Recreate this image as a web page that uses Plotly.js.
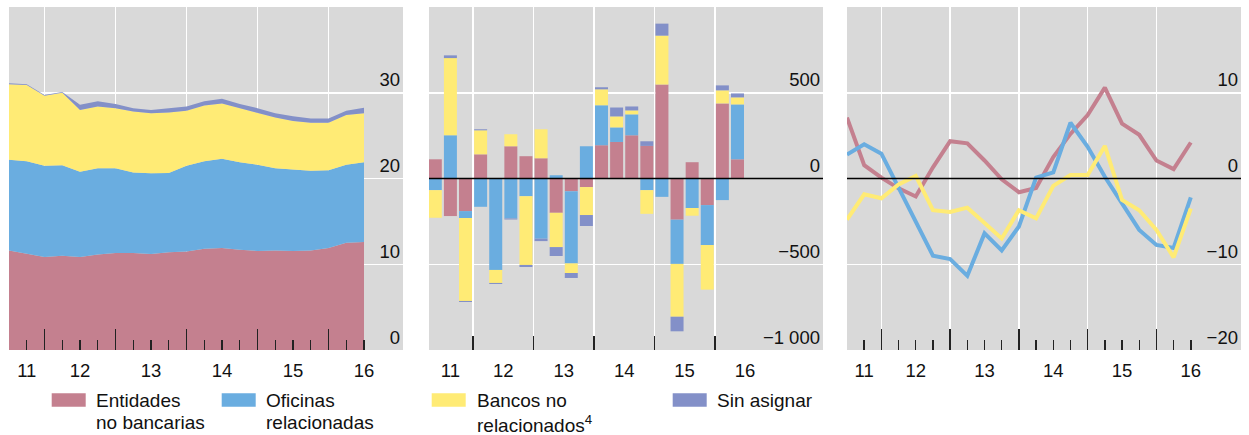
<!DOCTYPE html>
<html><head><meta charset="utf-8">
<script src="https://cdn.plot.ly/plotly-3.0.1.min.js"></script>
<style>html,body{margin:0;padding:0;background:#fff}#chart{width:1249px;height:435px}</style>
</head><body><div id="chart"></div>
<script>
// quarter index (21 quarterly observations)
const quarters = [0,1,2,3,4,5,6,7,8,9,10,11,12,13,14,15,16,17,18,19,20];
const yearLabels = ['11','12','13','14','15','16'];

// Panel 1: stocks (stacked areas)
const stockEntidades = [11.6,11.2,10.85,11.0,10.85,11.15,11.3,11.3,11.2,11.4,11.5,11.8,11.9,11.7,11.55,11.6,11.55,11.6,11.9,12.5,12.6];
const stockOficinas  = [10.6,10.8,10.65,10.55,9.95,10.05,9.9,9.4,9.4,9.25,10.0,10.2,10.4,10.2,10.05,9.6,9.5,9.3,9.05,9.1,9.3];
const stockBancos    = [8.8,8.9,8.15,8.45,7.2,7.2,7.0,7.1,7.0,7.05,6.4,6.5,6.45,6.3,6.0,5.9,5.65,5.6,5.55,5.8,5.7];
const stockSinAsignar= [0.1,0.1,0.1,0.1,0.6,0.6,0.5,0.4,0.4,0.5,0.5,0.5,0.55,0.5,0.6,0.5,0.55,0.5,0.5,0.5,0.65];

// Panel 2: flows (stacked bars)
const flowEntidades  = [112,-219,-190,141,0,188,130,118,-200,-74,-50,194,213,252,190,548,-240,95,-155,438,112];
const flowOficinas   = [-68,252,-41,-165,-533,-233,-103,-351,19,-421,188,233,85,122,-68,-107,-258,-172,-233,-126,320];
const flowBancos     = [-161,450,-483,140,-76,70,-401,169,-200,-56,-163,93,64,23,-138,285,-308,-45,-260,76,41];
const flowSinAsignar = [0,16,-6,6,-6,-6,-12,-14,-52,-29,-64,12,52,23,27,70,-85,0,0,29,23];

// Panel 3: growth rates (lines)
const rateEntidades = [7.1,1.55,0.1,-1.15,-2.1,1.3,4.35,4.1,2.1,-0.1,-1.6,-1.1,2.5,5.2,7.4,10.6,6.4,5.1,2.1,1.1,4.2];
const rateOficinas  = [2.8,4.0,2.9,-1.0,-5.0,-9.0,-9.4,-11.35,-6.4,-8.4,-5.6,0.1,0.7,6.5,3.7,0.2,-2.9,-6.0,-7.75,-8.1,-2.2];
const rateBancos    = [-4.8,-1.85,-2.3,-0.7,0.3,-3.7,-3.9,-3.4,-5.2,-7.0,-3.7,-4.65,-0.85,0.4,0.4,3.8,-2.5,-3.7,-6.0,-9.2,-3.5];

const seriesNames = [['Entidades','no bancarias'],['Oficinas','relacionadas'],['Bancos no','relacionados<sup>4</sup>'],['Sin asignar']];
const colors = ['#C4808F','#6AADE0','#FFEB75','#8390C8'];

const W = 1249, H = 435;
const FONT = 'Liberation Sans, Arial, Helvetica, sans-serif';
const px = v => v / W, py = v => 1 - v / H;

const stocks = [stockEntidades, stockOficinas, stockBancos, stockSinAsignar];
const flows = [flowEntidades, flowOficinas, flowBancos, flowSinAsignar];
const rates = [rateEntidades, rateOficinas, rateBancos];

const traces = [];
stocks.forEach((s, i) => traces.push({
  x: quarters, y: s, type: 'scatter', mode: 'lines', stackgroup: 'stock',
  line: {width: 0, color: colors[i]}, fillcolor: colors[i],
  xaxis: 'x', yaxis: 'y', showlegend: false, hoverinfo: 'skip'
}));
flows.forEach((s, i) => traces.push({
  x: quarters, y: s, type: 'bar', marker: {color: colors[i], line: {width: 0}},
  xaxis: 'x2', yaxis: 'y2', showlegend: false, hoverinfo: 'skip'
}));
rates.forEach((s, i) => traces.push({
  x: quarters, y: s, type: 'scatter', mode: 'lines', line: {color: colors[i], width: 4},
  xaxis: 'x3', yaxis: 'y3', showlegend: false, hoverinfo: 'skip'
}));
// empty traces to activate the label axes
[['x4','y'],['x5','y2'],['x6','y3']].forEach(([xa, ya]) => traces.push({x: [], y: [], type: 'scatter', mode: 'lines', xaxis: xa, yaxis: ya, showlegend: false, hoverinfo: 'skip'}));

const yDom = [py(350), py(7)];
const doms = [[px(9), px(403)], [px(429), px(823)], [px(847), px(1241)]];
const ranges = [[0, 22.197], [-0.417, 25.66], [0, 22.92]];
const tickFont = {family: FONT, size: 18.5, color: '#111'};

function dataX(i, gridVals, majorLen, minorVals) {
  const ax = {
    domain: doms[i], anchor: ['y','y2','y3'][i], range: ranges[i], fixedrange: true,
    tickmode: 'array', tickvals: gridVals, showticklabels: false,
    ticks: 'inside', ticklen: majorLen, tickwidth: 1.4, tickcolor: '#222',
    showgrid: true, gridcolor: '#ffffff', gridwidth: 1.5, zeroline: false, showline: false
  };
  if (minorVals) ax.minor = {tickmode: 'array', tickvals: minorVals, ticks: 'inside', ticklen: 10, tickwidth: 1.4, tickcolor: '#222', showgrid: false};
  return ax;
}
function labelX(i, vals) {
  return {
    overlaying: ['x','x2','x3'][i], anchor: ['y','y2','y3'][i], range: ranges[i], fixedrange: true,
    tickmode: 'array', tickvals: vals, ticktext: yearLabels, ticks: '', ticklabelstandoff: 7,
    showgrid: false, zeroline: false, showline: false, tickfont: tickFont
  };
}
function yAx(i, range, vals, text) {
  const ax = {
    domain: yDom, anchor: ['x','x2','x3'][i], side: 'right', range: range, fixedrange: true,
    tickmode: 'array', tickvals: vals, ticklabelposition: 'inside top', ticks: '',
    showgrid: true, gridcolor: '#ffffff', gridwidth: 1.5, zeroline: false, showline: false,
    tickfont: tickFont
  };
  if (text) ax.ticktext = text;
  return ax;
}

const shapes = [];
['y2','y3'].forEach((ya, i) => shapes.push({
  type: 'line', xref: ['x2','x3'][i] + ' domain', yref: ya, x0: 0, x1: 1, y0: 0, y1: 0,
  line: {color: '#000', width: 1.5}, layer: 'above'
}));

// legend (custom, below the panels)
const swatchX = [51.7, 221.7, 431.7, 672.7];
const textX = [96.7, 266.7, 477.3, 717.3];
const annotations = [];
seriesNames.forEach((lines, i) => {
  shapes.push({type: 'rect', xref: 'paper', yref: 'paper',
    x0: px(swatchX[i]), x1: px(swatchX[i] + 34), y0: py(406.7), y1: py(393.3),
    fillcolor: colors[i], line: {width: 0}, layer: 'above'});
  lines.forEach((t, k) => annotations.push({
    xref: 'paper', yref: 'paper', x: px(textX[i] - 1.5), y: py(389 + 22 * k),
    xanchor: 'left', yanchor: 'top', showarrow: false, align: 'left', text: t, borderpad: 0,
    font: {family: FONT, size: 19, color: '#111'}
  }));
});

const layout = {
  width: W, height: H, margin: {l: 0, r: 0, t: 0, b: 0, pad: 0},
  paper_bgcolor: '#ffffff', plot_bgcolor: '#d9d9d9',
  font: {family: FONT, size: 18.5, color: '#111'},
  barmode: 'relative', bargap: 0.14, showlegend: false,
  xaxis: dataX(0, [2,6,10,14,18], 21, quarters),
  xaxis2: dataX(1, [2.5,6.5,10.5,14.5,18.5], 14, null),
  xaxis3: dataX(2, [2,6,10,14,18], 21, quarters),
  xaxis4: labelX(0, [1,4,8,12,16,20]),
  xaxis5: labelX(1, [1,4.5,8.5,12.5,16.5,20.5]),
  xaxis6: labelX(2, [1,4,8,12,16,20]),
  yaxis: yAx(0, [0, 40], [0,10,20,30]),
  yaxis2: yAx(1, [-1000, 1000], [-1000,-500,0,500], ['\u22121 000','\u2212500','0','500']),
  yaxis3: yAx(2, [-20, 20], [-20,-10,0,10], ['\u221220','\u221210','0','10']),
  shapes: shapes, annotations: annotations
};

Plotly.newPlot('chart', traces, layout, {staticPlot: true, displayModeBar: false});
</script></body></html>
